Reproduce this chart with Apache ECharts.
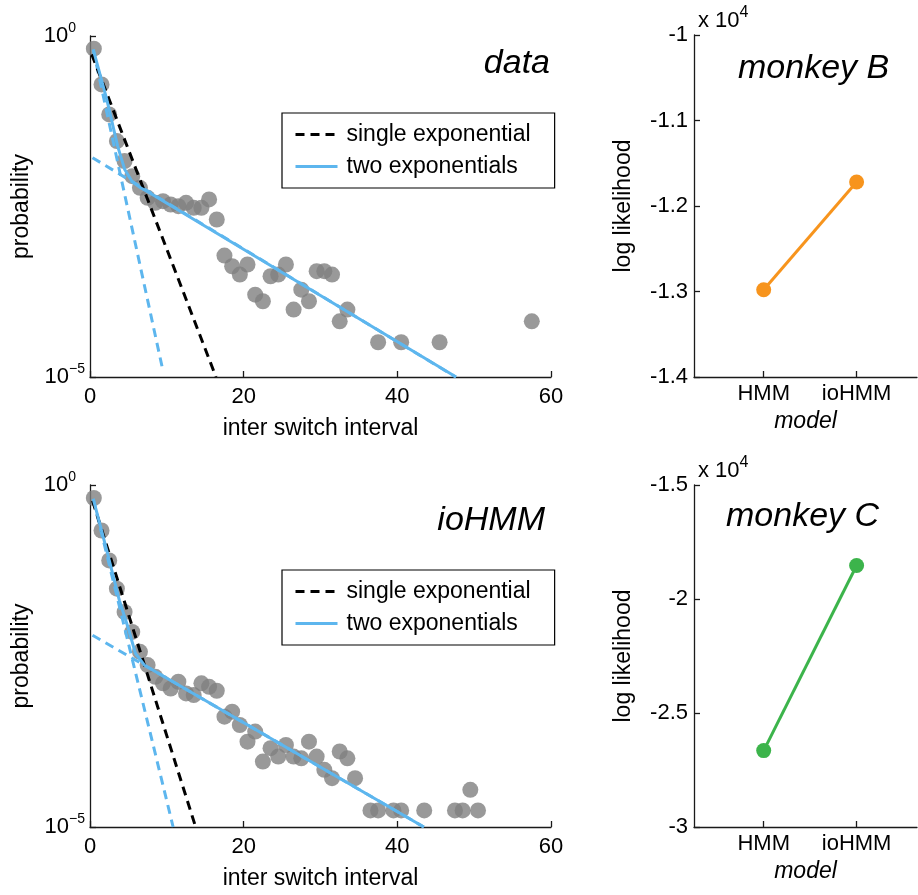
<!DOCTYPE html>
<html>
<head>
<meta charset="utf-8">
<title>switch intervals</title>
<script src="https://cdn.jsdelivr.net/npm/echarts@6/dist/echarts.min.js"></script>
<style>
html, body { margin: 0; padding: 0; background: #fff; }
#chart { width: 918px; height: 895px; }
</style>
</head>
<body>
<div id="chart"></div>
<script>
// interval bins (x) and probabilities, panel "data"
var dataX = [0.5, 1.5, 2.5, 3.5, 4.5, 5.5, 6.5, 7.5, 8.5, 9.5, 10.5, 11.5, 12.5, 13.5, 14.5, 15.5, 16.5,
  17.5, 18.5, 19.5, 20.5, 21.5, 22.5, 23.5, 24.5, 25.5, 26.5, 27.5, 28.5, 29.5, 30.5, 31.5, 32.5, 33.5,
  37.5, 40.5, 45.5, 57.5];
var dataP = [0.652, 0.195, 0.0708, 0.0288, 0.0147, 0.00881, 0.00594, 0.00424, 0.00358, 0.00378, 0.00338,
  0.0032, 0.00358, 0.00302, 0.00302, 0.00401, 0.00204, 0.000604, 0.000421, 0.000318, 0.000446, 0.000161,
  0.000129, 0.0003, 0.000318, 0.000446, 0.0000973, 0.000191, 0.000129, 0.000356, 0.000356, 0.000318,
  0.0000656, 0.0000973, 0.0000323, 0.0000323, 0.0000323, 0.0000656];

// panel "ioHMM"
var iohmmX = [0.5, 1.5, 2.5, 3.5, 4.5, 5.5, 6.5, 7.5, 8.5, 9.5, 10.5, 11.5, 12.5, 13.5, 14.5, 15.5, 16.5,
  17.5, 18.5, 19.5, 20.5, 21.5, 22.5, 23.5, 24.5, 25.5, 26.5, 27.5, 28.5, 29.5, 30.5, 31.5, 32.5, 33.5,
  34.5, 36.5, 37.5, 39.5, 40.5, 43.5, 47.5, 48.5, 49.5, 50.5];
var iohmmP = [0.646, 0.216, 0.0789, 0.0305, 0.0139, 0.00711, 0.00364, 0.00233, 0.00157, 0.00126, 0.00106,
  0.00133, 0.000897, 0.000849, 0.00126, 0.00112, 0.000982, 0.00041, 0.000485, 0.00031, 0.000177, 0.000248,
  0.0000906, 0.000142, 0.000107, 0.000158, 0.000107, 0.000101, 0.000177, 0.000107, 0.0000685, 0.0000518,
  0.000127, 0.000101, 0.0000518, 0.0000175, 0.0000175, 0.0000175, 0.0000175, 0.0000175, 0.0000175,
  0.0000175, 0.000035, 0.0000175];

// fitted lines as [x, p] pairs
var dataSingle = [[0.23, 0.538], [16.4, 0.00001]];
var dataFast = [[0.42, 0.63], [9.42, 0.0000135]];
var dataSlow = [[0.33, 0.0164], [47.6, 0.00001]];
var dataTwo = [[0.42, 0.637], [2.19, 0.117], [3.59, 0.0245], [4.52, 0.011], [5.45, 0.0074],
  [6.62, 0.0059], [7.79, 0.005], [47.65, 0.00001]];

var iohmmSingle = [[0.33, 0.59], [13.75, 0.00001]];
var iohmmFast = [[0.42, 0.625], [10.82, 0.00001]];
var iohmmSlow = [[0.33, 0.00637], [43.45, 0.00001]];
var iohmmTwo = [[0.42, 0.625], [2.19, 0.11], [3.82, 0.0206], [4.99, 0.00796], [5.92, 0.00344],
  [7.09, 0.00232], [43.45, 0.00001]];

// model comparison
var models = ['HMM', 'ioHMM'];
var llMonkeyB = [-12980, -11720];
var llMonkeyC = [-26650, -18530];

var FONT = '"Liberation Sans", Arial, Helvetica, sans-serif';
var AXIS = '#1a1a1a';
var BLUE = '#5db6ee';
var GRAY = '#808080';

function pairs(xs, ys) {
  return xs.map(function (x, i) { return [x, ys[i]]; });
}

// 10^e labels, exponent as superscript; "0" gets some right padding so the 10s line up
function logLabel(v) {
  var e = Math.round(Math.log10(v));
  if (e === 0) return '{a|10}{c|0}';
  return '{a|10}{b|' + (e < 0 ? '\u2212' + (-e) : e) + '}';
}

var axisLine = { lineStyle: { color: AXIS, width: 1.3 } };
var tickIn = { inside: true, length: 6, lineStyle: { color: AXIS, width: 1.3 } };
var labelFont = { fontFamily: FONT, fontSize: 22, color: '#000' };

function probXAxis(idx) {
  return {
    gridIndex: idx, type: 'value', min: 0, max: 60, interval: 20,
    name: 'inter switch interval', nameLocation: 'middle', nameGap: 40,
    nameTextStyle: { fontFamily: FONT, fontSize: 23, color: '#000' },
    axisLine: axisLine, axisTick: tickIn, splitLine: { show: false },
    axisLabel: Object.assign({ margin: 9 }, labelFont)
  };
}
function probYAxis(idx) {
  return {
    gridIndex: idx, type: 'log', logBase: 10, min: 0.00001, max: 1, interval: 5,
    name: 'probability', nameLocation: 'middle', nameGap: 50,
    nameTextStyle: { fontFamily: FONT, fontSize: 23, color: '#000' },
    axisLine: axisLine, axisTick: tickIn, splitLine: { show: false }, minorTick: { show: false },
    axisLabel: {
      margin: 5, formatter: logLabel, fontFamily: FONT, color: '#000',
      rich: {
        a: { fontFamily: FONT, fontSize: 22, color: '#000' },
        b: { fontFamily: FONT, fontSize: 14, color: '#000', padding: [0, 0, 16, 0] },
        c: { fontFamily: FONT, fontSize: 14, color: '#000', padding: [0, 9, 16, 0] }
      }
    }
  };
}
function modelXAxis(idx) {
  return {
    gridIndex: idx, type: 'value', min: 0.25, max: 2.65,
    name: 'model', nameLocation: 'middle', nameGap: 33,
    nameTextStyle: { fontFamily: FONT, fontSize: 23, fontStyle: 'italic', color: '#000' },
    axisLine: axisLine, splitLine: { show: false },
    axisTick: Object.assign({ customValues: [1, 2] }, tickIn),
    axisLabel: Object.assign({
      customValues: [1, 2], margin: 6,
      formatter: function (v) { return models[Math.round(v) - 1]; }
    }, labelFont)
  };
}
function llYAxis(idx, lo, hi, step) {
  return {
    gridIndex: idx, type: 'value', min: lo, max: hi, interval: step,
    name: 'log likelihood', nameLocation: 'middle', nameGap: 59,
    nameTextStyle: { fontFamily: FONT, fontSize: 23, color: '#000' },
    axisLine: axisLine, axisTick: tickIn, splitLine: { show: false },
    axisLabel: Object.assign({
      margin: 6,
      formatter: function (v) { return String(v / 10000); }
    }, labelFont)
  };
}

function scatter(idx, xs, ys) {
  return {
    type: 'scatter', xAxisIndex: idx, yAxisIndex: idx, data: pairs(xs, ys),
    symbolSize: 16, itemStyle: { color: GRAY }, z: 2, silent: true
  };
}
function fit(idx, name, pts, color, dashed) {
  return {
    name: name, type: 'line', xAxisIndex: idx, yAxisIndex: idx, data: pts,
    symbol: 'none', silent: true, z: 3,
    lineStyle: { color: color, width: 3, type: dashed ? [9, 6] : 'solid' },
    itemStyle: { color: color }
  };
}
function llLine(idx, vals, color) {
  return {
    type: 'line', xAxisIndex: idx, yAxisIndex: idx,
    data: vals.map(function (v, i) { return [i + 1, v]; }),
    symbol: 'circle', symbolSize: 15, silent: true,
    lineStyle: { color: color, width: 3 }, itemStyle: { color: color }
  };
}

// small itemHeight so the legend marker dot hides under the line
function legendBox(top) {
  return {
    orient: 'vertical', left: 282, top: top, itemGap: 9, itemWidth: 42, itemHeight: 4,
    padding: [10, 24, 10, 12], borderColor: '#000', borderWidth: 1.2, borderRadius: 0,
    backgroundColor: '#fff', selectedMode: false,
    lineStyle: { width: 3 },
    data: ['single exponential', 'two exponentials'],
    textStyle: { fontFamily: FONT, fontSize: 23, color: '#000', padding: [0, 0, 0, 4] }
  };
}

var titleStyle = { fontFamily: FONT, fontSize: 34, fontStyle: 'italic', fontWeight: 'normal', color: '#000' };
var powRich = {
  a: { fontFamily: FONT, fontSize: 22, fontWeight: 'normal', color: '#000' },
  b: { fontFamily: FONT, fontSize: 16, fontWeight: 'normal', color: '#000', padding: [0, 0, 16, 0] }
};

var chart = echarts.init(document.getElementById('chart'), null, { renderer: 'canvas' });
chart.setOption({
  backgroundColor: '#fff',
  animation: false,
  title: [
    { text: 'data', right: 363, top: 42, textStyle: titleStyle },
    { text: 'ioHMM', right: 368, top: 499, textStyle: titleStyle },
    { text: 'monkey B', left: 733, top: 47, textStyle: titleStyle },
    { text: 'monkey C', left: 721, top: 495, textStyle: titleStyle },
    { text: '{a|x 10}{b|4}', left: 693, top: 0, textStyle: { fontWeight: 'normal', rich: powRich } },
    { text: '{a|x 10}{b|4}', left: 693, top: 450, textStyle: { fontWeight: 'normal', rich: powRich } }
  ],
  legend: [legendBox(113), legendBox(570)],
  grid: [
    { left: 90, top: 36, width: 461, height: 341 },
    { left: 90, top: 485, width: 461, height: 342 },
    { left: 694, top: 35, width: 223, height: 342 },
    { left: 694, top: 485, width: 223, height: 342 }
  ],
  xAxis: [probXAxis(0), probXAxis(1), modelXAxis(2), modelXAxis(3)],
  yAxis: [probYAxis(0), probYAxis(1), llYAxis(2, -14000, -10000, 1000), llYAxis(3, -30000, -15000, 5000)],
  series: [
    scatter(0, dataX, dataP),
    fit(0, 'fast', dataFast, BLUE, true),
    fit(0, 'slow', dataSlow, BLUE, true),
    fit(0, 'single exponential', dataSingle, '#000', true),
    fit(0, 'two exponentials', dataTwo, BLUE, false),
    scatter(1, iohmmX, iohmmP),
    fit(1, 'fast', iohmmFast, BLUE, true),
    fit(1, 'slow', iohmmSlow, BLUE, true),
    fit(1, 'single exponential', iohmmSingle, '#000', true),
    fit(1, 'two exponentials', iohmmTwo, BLUE, false),
    llLine(2, llMonkeyB, '#f7941d'),
    llLine(3, llMonkeyC, '#3cb44b')
  ]
});
</script>
</body>
</html>
